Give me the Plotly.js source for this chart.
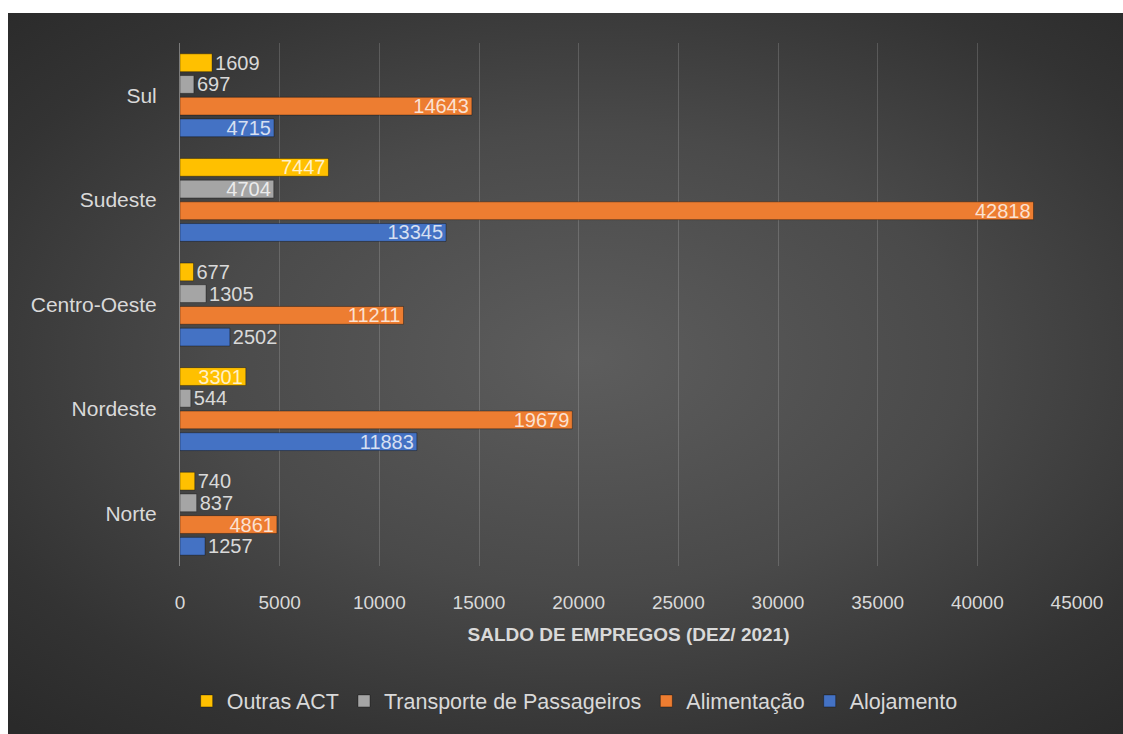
<!DOCTYPE html>
<html>
<head>
<meta charset="utf-8">
<script src="https://cdn.plot.ly/plotly-3.0.1.min.js"></script>
<style>
  html, body { margin: 0; padding: 0; background: #ffffff; }
  #bg { position: absolute; left: 8px; top: 13px; width: 1115px; height: 721px;
        background: radial-gradient(ellipse 75% 70% at 52% 48%, #5d5d5d 0%, #4a4a4a 45%, #333333 80%, #2a2a2a 100%); }
  #chart { position: absolute; left: 0; top: 0; width: 1123px; height: 734px; }
</style>
</head>
<body>
<div id="bg"></div>
<div id="chart"></div>
<script>
const regions = ['Norte', 'Nordeste', 'Centro-Oeste', 'Sudeste', 'Sul'];
const alojamento = [1257, 11883, 2502, 13345, 4715];
const alimentacao = [4861, 19679, 11211, 42818, 14643];
const transporte = [837, 544, 1305, 4704, 697];
const outrasACT = [740, 3301, 677, 7447, 1609];
const xTicks = [0, 5000, 10000, 15000, 20000, 25000, 30000, 35000, 40000, 45000];

const FONT = 'Liberation Sans, Arial, sans-serif';
function positions(vals) { return vals.map(v => v >= 3000 ? 'inside' : 'outside'); }

function mk(name, vals, color) {
  return {
    type: 'bar', orientation: 'h', name: name,
    y: regions, x: vals,
    text: vals.map(String), textposition: positions(vals),
    insidetextanchor: 'end', constraintext: 'none',
    insidetextfont: { family: FONT, size: 20, color: 'rgba(255,255,255,0.78)' },
    outsidetextfont: { family: FONT, size: 20, color: '#d9d9d9' },
    marker: { color: color, line: { color: 'rgba(0,0,0,0.35)', width: 1 } },
    cliponaxis: false,
    hoverinfo: 'x+name'
  };
}

const data = [
  mk('Alojamento', alojamento, '#4472c4'),
  mk('Alimentação', alimentacao, '#ed7d31'),
  mk('Transporte de Passageiros', transporte, '#a5a5a5'),
  mk('Outras ACT', outrasACT, '#ffc000')
];

const layout = {
  width: 1123, height: 734,
  paper_bgcolor: 'rgba(0,0,0,0)', plot_bgcolor: 'rgba(0,0,0,0)',
  margin: { l: 180, r: 46, t: 43, b: 164 },
  barmode: 'group', bargap: 0.17, bargroupgap: 0.18,
  font: { family: FONT, color: '#d9d9d9', size: 20 },
  xaxis: {
    range: [0, 45000], tickvals: xTicks, ticktext: xTicks.map(String),
    showgrid: true, gridcolor: 'rgba(255,255,255,0.16)', gridwidth: 1,
    zeroline: false, showline: false, ticks: '',
    tickfont: { family: FONT, size: 19, color: '#d9d9d9' },
    ticklabelstandoff: 23,
    title: { text: '<b>SALDO DE EMPREGOS (DEZ/ 2021)</b>', font: { family: FONT, size: 19, color: '#d9d9d9' }, standoff: 15 }
  },
  yaxis: {
    type: 'category', categoryorder: 'array', categoryarray: regions,
    showline: true, linecolor: 'rgba(255,255,255,0.35)', linewidth: 1,
    showgrid: false, ticks: '',
    tickfont: { family: FONT, size: 21, color: '#d9d9d9' },
    ticklabelstandoff: 18
  },
  legend: {
    orientation: 'h', x: 0.44, xanchor: 'center', y: -0.258, yanchor: 'middle',
    traceorder: 'reversed', font: { family: FONT, size: 21.5, color: '#d9d9d9' },
    itemwidth: 30, bgcolor: 'rgba(0,0,0,0)'
  },
  showlegend: true
};

Plotly.newPlot('chart', data, layout, { displayModeBar: false, staticPlot: true });
</script>
</body>
</html>
